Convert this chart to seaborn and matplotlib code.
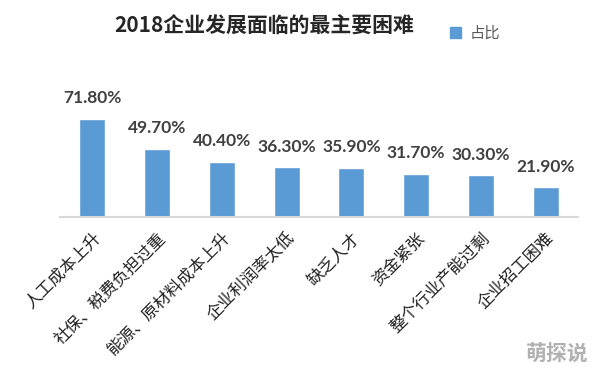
import matplotlib
matplotlib.use("Agg")
import matplotlib.pyplot as plt
import seaborn as sns
import pandas as pd
from matplotlib.patches import Patch

# --- Data ---
CATEGORIES = ["人工成本上升", "社保、税费负担过重", "能源、原材料成本上升", "企业利润率太低",
              "缺乏人才", "资金紧张", "整个行业产能过剩", "企业招工困难"]
SHARES = [71.8, 49.7, 40.4, 36.3, 35.9, 31.7, 30.3, 21.9]
TITLE = "2018企业发展面临的最主要困难"
SERIES = "占比"

COLOR_BAR = "#5B9BD5"
COLOR_TEXT = "#404040"

sns.set_theme(style="white")
plt.rcParams['font.family'] = ['Noto Sans CJK SC', 'DejaVu Sans']

df = pd.DataFrame({"cat": CATEGORIES, "share": SHARES})

fig = plt.figure(figsize=(5.94, 3.71), dpi=100)
ax = fig.add_axes([0.101, 0.415, 0.872, 0.34])
sns.barplot(data=df, x="cat", y="share", color=COLOR_BAR, width=0.4,
            saturation=1, ax=ax)

ax.set_ylim(0, 92)
ax.set_xlim(-0.5, len(CATEGORIES) - 0.5)
ax.set_xlabel("")
ax.set_ylabel("")
ax.set_yticks([])
for s in ["top", "right", "left"]:
    ax.spines[s].set_visible(False)
ax.spines["bottom"].set_color("#D9D9D9")
ax.spines["bottom"].set_linewidth(1.5)

ax.set_xticks(range(len(CATEGORIES)))
ax.set_xticklabels(CATEGORIES, rotation=45, ha="right", rotation_mode="anchor",
                   fontsize=12, color="#202020")
ax.tick_params(axis="x", length=0, pad=9)

for i, v in enumerate(SHARES):
    ax.annotate(f"{v:.2f}%", (i, v), xytext=(0, 9), textcoords="offset points",
                ha="center", va="bottom", fontsize=12.5, fontweight="bold",
                color=COLOR_TEXT, family=["Lato", "DejaVu Sans"])

fig.text(0.445, 0.93, TITLE, ha="center", va="center", fontsize=15,
         fontweight="bold", color="#262626")

leg = fig.legend(handles=[Patch(color=COLOR_BAR, label=SERIES)],
                 loc="center", bbox_to_anchor=(0.8, 0.91), frameon=False,
                 fontsize=11, handlelength=0.7, handleheight=0.7,
                 handletextpad=0.6)
for t in leg.get_texts():
    t.set_color("#595959")

fig.text(0.99, 0.045, "萌探说", ha="right", va="center", fontsize=15,
         fontweight="bold", color="#9E9E9E", alpha=0.8)

fig.savefig("out.png", dpi=100)
